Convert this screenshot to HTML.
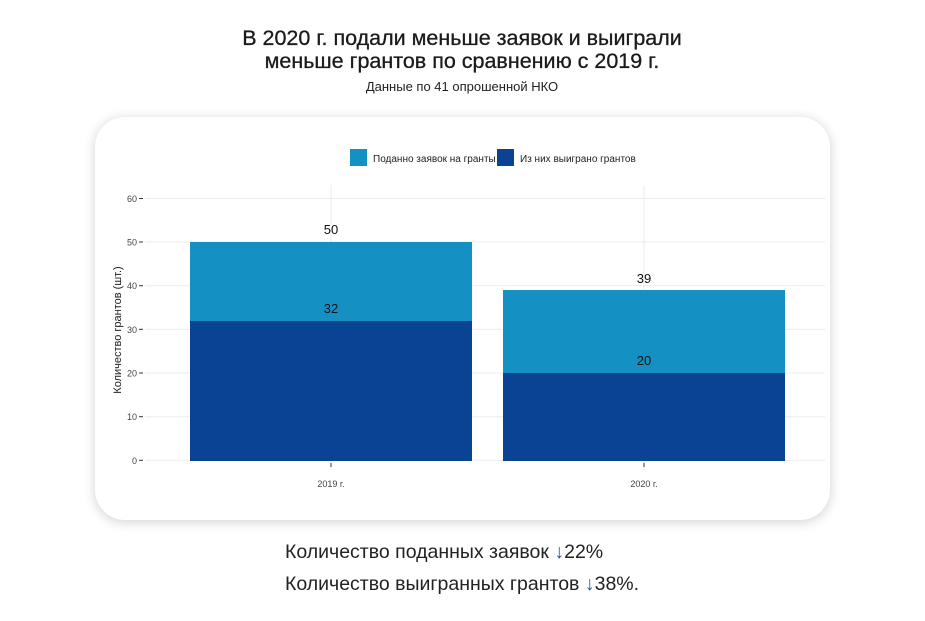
<!DOCTYPE html>
<html><head><meta charset="utf-8"><style>
body{margin:0;background:#fff;width:925px;height:616px;overflow:hidden;font-family:"Liberation Sans",sans-serif;}
</style></head><body>
<svg width="925" height="616" xmlns="http://www.w3.org/2000/svg" font-family="Liberation Sans, sans-serif">
<defs><filter id="sh" x="-10%" y="-10%" width="120%" height="120%"><feGaussianBlur stdDeviation="6"/></filter></defs>
<text x="462" y="45" text-anchor="middle" font-size="21.5" fill="#1a1a1a" stroke="#1a1a1a" stroke-width="0.3">В 2020 г. подали меньше заявок и выиграли</text>
<text x="462" y="68" text-anchor="middle" font-size="21.5" fill="#1a1a1a" stroke="#1a1a1a" stroke-width="0.3">меньше грантов по сравнению с 2019 г.</text>
<text x="462" y="91" text-anchor="middle" font-size="13" fill="#222">Данные по 41 опрошенной НКО</text>
<rect x="95" y="119" width="735" height="403" rx="30" fill="#000" opacity="0.18" filter="url(#sh)"/>
<rect x="95" y="117" width="735" height="403" rx="30" fill="#fff"/>
<rect x="350" y="149" width="17" height="17" fill="#1490c3"/>
<text x="373" y="162" font-size="10" fill="#222">Поданно заявок на гранты</text>
<rect x="497" y="149" width="17" height="17" fill="#0a4394"/>
<text x="520" y="162" font-size="10" fill="#222">Из них выиграно грантов</text>
<g stroke="#ebebeb" stroke-width="1">
<line x1="145" x2="825" y1="198.5" y2="198.5"/><line x1="145" x2="825" y1="242" y2="242"/>
<line x1="145" x2="825" y1="285.7" y2="285.7"/><line x1="145" x2="825" y1="329.3" y2="329.3"/>
<line x1="145" x2="825" y1="373" y2="373"/><line x1="145" x2="825" y1="416.7" y2="416.7"/>
<line x1="145" x2="825" y1="460.3" y2="460.3"/>
<line x1="331" x2="331" y1="185" y2="470"/><line x1="644" x2="644" y1="185" y2="470"/>
</g>
<g font-size="9" fill="#444" text-anchor="end">
<text x="137" y="202">60</text><text x="137" y="245.5">50</text><text x="137" y="289">40</text>
<text x="137" y="333">30</text><text x="137" y="376.5">20</text><text x="137" y="420">10</text><text x="137" y="464">0</text>
</g>
<g stroke="#333" stroke-width="1">
<line x1="139" x2="143" y1="198.5" y2="198.5"/><line x1="139" x2="143" y1="242" y2="242"/>
<line x1="139" x2="143" y1="285.7" y2="285.7"/><line x1="139" x2="143" y1="329.3" y2="329.3"/>
<line x1="139" x2="143" y1="373" y2="373"/><line x1="139" x2="143" y1="416.7" y2="416.7"/>
<line x1="139" x2="143" y1="460.3" y2="460.3"/>
<line x1="331" x2="331" y1="463" y2="467"/><line x1="644" x2="644" y1="463" y2="467"/>
</g>
<text transform="translate(121,330) rotate(-90)" text-anchor="middle" font-size="11" fill="#222">Количество грантов (шт.)</text>
<rect x="190" y="242" width="282" height="79" fill="#1490c3"/>
<rect x="190" y="321" width="282" height="140" fill="#0a4394"/>
<rect x="503" y="290" width="282" height="83" fill="#1490c3"/>
<rect x="503" y="373" width="282" height="88" fill="#0a4394"/>
<g font-size="13" fill="#111" text-anchor="middle">
<text x="331" y="234">50</text><text x="331" y="313">32</text>
<text x="644" y="283">39</text><text x="644" y="365">20</text>
</g>
<g font-size="9" fill="#444" text-anchor="middle">
<text x="331" y="487">2019 г.</text><text x="644" y="487">2020 г.</text>
</g>
<text x="285" y="558" font-size="19.5" fill="#222">Количество поданных заявок <tspan fill="#2a55a5">↓</tspan>22%</text>
<text x="285" y="590" font-size="19.5" fill="#222">Количество выигранных грантов <tspan fill="#2a55a5">↓</tspan>38%.</text>
</svg>
</body></html>
